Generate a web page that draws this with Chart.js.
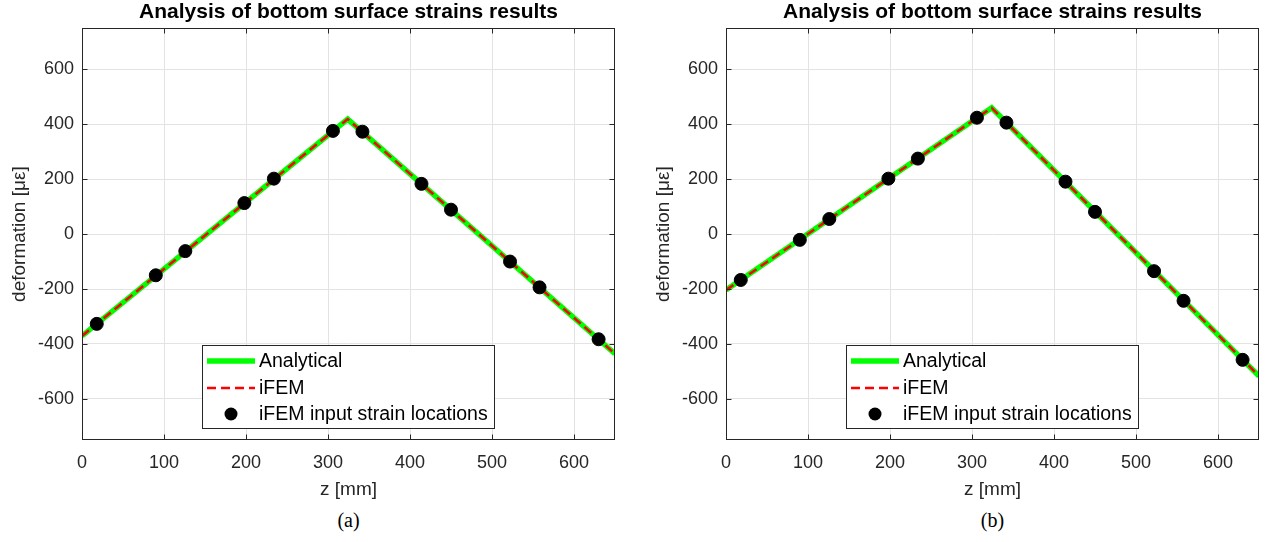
<!DOCTYPE html>
<html>
<head>
<meta charset="utf-8">
<script src="https://cdn.jsdelivr.net/npm/chart.js@4.4.1/dist/chart.umd.min.js"></script>
<style>
  body { margin: 0; width: 1271px; height: 542px; overflow: hidden; background: #fff; position: relative; }
  .painel { position: absolute; top: 0; width: 640px; height: 505px; }
  .legenda { position: absolute; top: 509px; width: 533px; text-align: center;
    font: 20px "Liberation Serif", "Times New Roman", serif; color: #000; }
</style>
</head>
<body>
<div class="painel" style="left:0"><canvas id="grafA" width="640" height="505"></canvas></div>
<div class="painel" style="left:644px"><canvas id="grafB" width="640" height="505"></canvas></div>
<div class="legenda" style="left:82px">(a)</div>
<div class="legenda" style="left:726px">(b)</div>
<script>
// sensor positions along the beam, z [mm]
const zSensors = [18, 90, 126, 198, 234, 306, 342, 414, 450, 522, 558, 630]
// measured strain at the sensors
const sensorsA = [-327, -150, -62, 113, 202, 376, 373, 183, 89, -100, -194, -383]
const sensorsB = [-167, -21, 55, 202, 275, 424, 406, 191, 81, -135, -243, -458]

// lines: ends of the beam and the peak
const zLine = [0, 324, 650]
const analyticalA = [-371, 419, -436]
const ifemA = [-371, 419, -436]
const analyticalB = [-204, 460, -517]
const ifemB = [-204, 460, -517]

Chart.defaults.font.family = '"Liberation Sans", Arial, Helvetica, sans-serif'
Chart.defaults.color = '#262626'
Chart.defaults.animation = false

const pares = (xs, ys) => xs.map((x, i) => ({ x: x, y: ys[i] }))

// box around the axes + inward ticks (matlab look)
const moldura = {
  id: 'moldura',
  afterDatasetsDraw(chart) {
    const { ctx, chartArea: a, scales } = chart
    const l = Math.round(a.left) + 0.5, r = Math.round(a.right) - 0.5
    const t = Math.round(a.top) + 0.5, b = Math.round(a.bottom) - 0.5
    ctx.save()
    ctx.strokeStyle = '#262626'
    ctx.lineWidth = 1
    ctx.setLineDash([])
    ctx.strokeRect(l, t, r - l, b - t)
    ctx.beginPath()
    scales.x.ticks.forEach(tk => {
      const px = Math.round(scales.x.getPixelForValue(tk.value)) + 0.5
      ctx.moveTo(px, b); ctx.lineTo(px, b - 5)
      ctx.moveTo(px, t); ctx.lineTo(px, t + 5)
    })
    scales.y.ticks.forEach(tk => {
      const py = Math.round(scales.y.getPixelForValue(tk.value)) + 0.5
      ctx.moveTo(l, py); ctx.lineTo(l + 5, py)
      ctx.moveTo(r, py); ctx.lineTo(r - 5, py)
    })
    ctx.stroke()
    ctx.restore()
  }
}

// legend box inside the plot
const caixaLegenda = {
  id: 'caixaLegenda',
  afterDraw(chart) {
    const { ctx, chartArea: a } = chart
    const x = Math.round(a.left) + 120, y = Math.round(a.top) + 317, w = 292, h = 83
    const linhas = [16, 43, 69]
    ctx.save()
    ctx.fillStyle = '#fff'
    ctx.fillRect(x, y, w, h)
    ctx.strokeStyle = '#262626'
    ctx.lineWidth = 1
    ctx.strokeRect(x + 0.5, y + 0.5, w, h)
    ctx.font = '19.5px "Liberation Sans", Arial, sans-serif'
    ctx.textBaseline = 'middle'
    chart.data.datasets.forEach((d, i) => {
      const ry = y + linhas[i]
      if (d.showLine === false) {
        ctx.fillStyle = d.backgroundColor
        ctx.beginPath()
        ctx.arc(x + 29, ry, d.pointRadius, 0, Math.PI * 2)
        ctx.fill()
      } else {
        ctx.setLineDash(d.borderDash || [])
        ctx.lineWidth = d.borderWidth
        ctx.strokeStyle = d.borderColor
        ctx.beginPath()
        ctx.moveTo(x + 5, ry)
        ctx.lineTo(x + 53, ry)
        ctx.stroke()
        ctx.setLineDash([])
      }
      ctx.fillStyle = '#000'
      ctx.fillText(d.label, x + 57, ry + 1)
    })
    ctx.restore()
  }
}

function grafico(id, analytical, ifem, sensors) {
  const ctx = document.getElementById(id).getContext('2d')
  return new Chart(ctx, {
    type: 'line',
    data: {
      datasets: [{
        label: 'Analytical',
        data: pares(zLine, analytical),
        borderColor: '#00ff00',
        borderWidth: 5.5,
        pointRadius: 0,
        order: 3
      }, {
        label: 'iFEM',
        data: pares(zLine, ifem),
        borderColor: '#ff0000',
        borderWidth: 2.5,
        borderDash: [9, 5],
        pointRadius: 0,
        order: 2
      }, {
        label: 'iFEM input strain locations',
        data: pares(zSensors, sensors),
        showLine: false,
        pointRadius: 6.5,
        pointHoverRadius: 6.5,
        backgroundColor: '#000',
        borderColor: '#000',
        order: 1
      }]
    },
    options: {
      responsive: false,
      layout: { padding: { left: 0, right: 25, top: 0, bottom: 0 } },
      plugins: {
        legend: { display: false },
        tooltip: { enabled: false },
        title: {
          display: true,
          fullSize: false,   // centre over the plot, not the canvas
          text: 'Analysis of bottom surface strains results',
          color: '#000',
          font: { size: 21, weight: 'bold' },
          padding: { top: 0, bottom: 3 }
        }
      },
      scales: {
        x: {
          type: 'linear',
          min: 0,
          max: 650,
          ticks: { stepSize: 100, includeBounds: false, padding: 12, font: { size: 18 } },
          grid: { color: '#e3e3e3', drawTicks: false },
          border: { display: false },
          title: { display: true, text: 'z [mm]', font: { size: 19 }, padding: { top: 0, bottom: 4 } },
          afterFit: s => { s.height = 65 }
        },
        y: {
          min: -750,
          max: 750,
          ticks: { stepSize: 200, includeBounds: false, padding: 8, font: { size: 18 } },
          grid: { color: '#e3e3e3', drawTicks: false },
          border: { display: false },
          title: { display: true, text: 'deformation [με]', font: { size: 19 }, padding: { top: 8, bottom: 0 } },
          afterFit: s => { s.width = 82 }
        }
      }
    },
    plugins: [moldura, caixaLegenda]
  })
}

grafico('grafA', analyticalA, ifemA, sensorsA)
grafico('grafB', analyticalB, ifemB, sensorsB)
</script>
</body>
</html>
